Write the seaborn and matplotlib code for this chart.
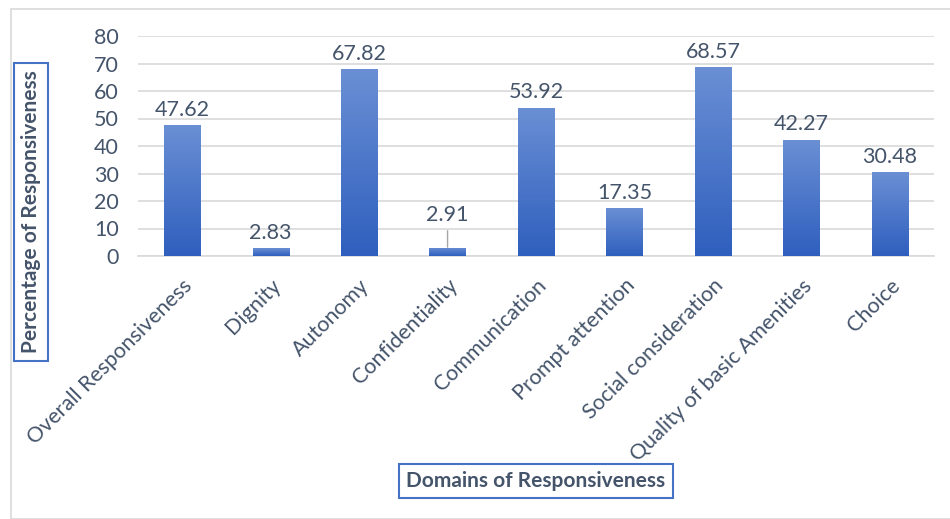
import numpy as np
import pandas as pd
import seaborn as sns
import matplotlib.pyplot as plt
from matplotlib.patches import Rectangle

domains = ["Overall Responsiveness", "Dignity", "Autonomy", "Confidentiality",
           "Communication", "Prompt attention", "Social consideration",
           "Quality of basic Amenities", "Choice"]
percent = [47.62, 2.83, 67.82, 2.91, 53.92, 17.35, 68.57, 42.27, 30.48]
yticks = [0, 10, 20, 30, 40, 50, 60, 70, 80]

sns.set_theme(style="white")
plt.rcParams['font.family'] = ['Lato', 'DejaVu Sans']
text_col = "#44546a"

df = pd.DataFrame({"domain": domains, "percent": percent})

fig = plt.figure(figsize=(9.5, 5.19), dpi=100)
# outer chart border (light gray)
fig.patches.append(Rectangle((11 / 950, 0), 1.2, 1 - 9 / 519, transform=fig.transFigure,
                             fill=False, edgecolor="#d9d9d9", linewidth=1.2))
ax = fig.add_axes([138 / 950, 1 - 256 / 519, (934 - 138) / 950, 220 / 519])

sns.barplot(data=df, x="domain", y="percent", color="#4472c4", width=0.41,
            ax=ax, zorder=3)

# vertical gradient on each bar
grad = np.linspace(0, 1, 256).reshape(-1, 1)
cmap = sns.blend_palette(["#2f5fbe", "#6a8fd4"], as_cmap=True)
for bar in ax.patches:
    x0, y0 = bar.get_x(), bar.get_y()
    w, h = bar.get_width(), bar.get_height()
    im = ax.imshow(grad, extent=[x0, x0 + w, y0, y0 + h], origin="lower",
                   cmap=cmap, aspect="auto", zorder=4)
    im.set_clip_path(bar)
    bar.set_edgecolor("none")

ax.set_xlim(-0.5, len(domains) - 0.5)
ax.set_ylim(0, 80)
ax.set_yticks(yticks)
ax.yaxis.grid(True, color="#d9d9d9", linewidth=1.2, zorder=0)
ax.set_axisbelow(True)
for s in ["top", "right", "left"]:
    ax.spines[s].set_visible(False)
ax.spines["bottom"].set_color("#d9d9d9")
ax.spines["bottom"].set_linewidth(1.2)
ax.tick_params(axis="y", labelsize=15.5, labelcolor=text_col, length=0, pad=14)
ax.tick_params(axis="x", labelsize=15.5, labelcolor=text_col, length=0, pad=14)
plt.setp(ax.get_xticklabels(), rotation=45, ha="right", rotation_mode="anchor")
ax.set_xlabel("")
ax.set_ylabel("")

for i, v in enumerate(percent):
    if domains[i] == "Confidentiality":
        ax.annotate(f"{v:.2f}", xy=(i, v + 0.3), xytext=(i, v + 8.5),
                    ha="center", va="bottom", fontsize=15.5, color=text_col,
                    arrowprops=dict(arrowstyle="-", color="#a6a6a6", lw=1,
                                    shrinkA=2, shrinkB=0))
    else:
        ax.text(i, v + 2, f"{v:.2f}", ha="center", va="bottom",
                fontsize=15.5, color=text_col)

box = dict(boxstyle="square,pad=0.35", facecolor="white",
           edgecolor="#4472c4", linewidth=1.5)
fig.text(31 / 950, 1 - 212 / 519, "Percentage of Responsiveness", rotation=90,
         ha="center", va="center", fontsize=15, fontweight="bold",
         color=text_col, bbox=box)
fig.text(536 / 950, 1 - 481 / 519, "Domains of Responsiveness",
         ha="center", va="center", fontsize=15, fontweight="bold",
         color=text_col, bbox=box)

fig.savefig("out.png", dpi=100)
